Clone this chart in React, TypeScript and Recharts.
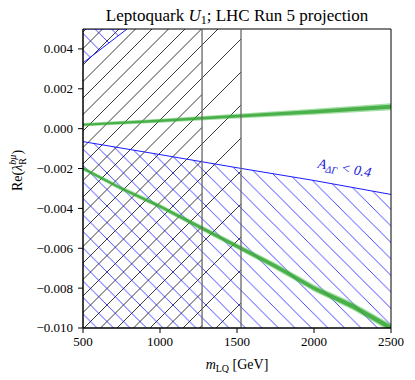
import React from 'react';
import {
  ComposedChart,
  Area,
  XAxis,
  YAxis,
  ReferenceArea,
  ReferenceLine,
  ReferenceDot,
  Label
} from 'recharts';

// m_LQ axis
const xTicks = [500, 1000, 1500, 2000, 2500];
const yTicks = [-0.01, -0.008, -0.006, -0.004, -0.002, 0, 0.002, 0.004];
const xDomain = [500, 2500];
const yDomain = [-0.01, 0.005];

// excluded mass ranges (black hatch)
const massLimitLow = 1273;
const massLimitHigh = 1526;

// A_DeltaGamma < 0.4 boundary (blue hatch below)
const blueX = [500, 1000, 1500, 2000, 2500];
const blueY = [-0.00065, -0.0013, -0.00196, -0.0026, -0.0033];

// small blue region top-left
const cornerX = [500, 786];
const cornerLo = [0.0033, 0.005];
const cornerHi = [0.005, 0.005];

// upper green band
const upX = [500, 1000, 1500, 2000, 2500];
const upOuterLo = [0.00011, 0.0003, 0.00051, 0.0007, 0.00092];
const upOuterHi = [0.00029, 0.0005, 0.00075, 0.001, 0.00128];
const upInnerLo = [0.00015, 0.00034, 0.00056, 0.00076, 0.001];
const upInnerHi = [0.00025, 0.00046, 0.0007, 0.00094, 0.0012];

// lower green band
const lowX = [500, 750, 1000, 1250, 1500, 1750, 2000, 2250, 2500];
const lowOuterLo = [-0.0021, -0.00311, -0.00402, -0.00503, -0.00604, -0.00706, -0.00817, -0.00909, -0.0102];
const lowOuterHi = [-0.0019, -0.00289, -0.00378, -0.00477, -0.00576, -0.00674, -0.00783, -0.00871, -0.0098];
const lowInnerLo = [-0.00206, -0.00306, -0.00397, -0.00498, -0.00599, -0.007, -0.0081, -0.00902, -0.01012];
const lowInnerHi = [-0.00194, -0.00294, -0.00383, -0.00482, -0.00581, -0.0068, -0.0079, -0.00878, -0.00988];

const blueData = blueX.map((x, i) => ({ x, y: blueY[i] }));
const cornerData = cornerX.map((x, i) => ({ x, band: [cornerLo[i], cornerHi[i]] }));
const upData = upX.map((x, i) => ({
  x,
  outer: [upOuterLo[i], upOuterHi[i]],
  inner: [upInnerLo[i], upInnerHi[i]]
}));
const lowData = lowX.map((x, i) => ({
  x,
  outer: [lowOuterLo[i], lowOuterHi[i]],
  inner: [lowInnerLo[i], lowInnerHi[i]]
}));

const FONT = '"Liberation Serif", "DejaVu Serif", serif';

const fmtY = (v: number) => {
  const s = Math.abs(v).toFixed(3);
  return v < 0 ? '\u2212' + s : s;
};

const XTick = (props: any) => (
  <text x={props.x} y={props.y} dy="0.75em" textAnchor="middle" fontFamily={FONT} fontSize={13} fill="#000">
    {props.payload.value}
  </text>
);

const YTick = (props: any) => (
  <text x={props.x} y={props.y} dy="0.34em" textAnchor="end" fontFamily={FONT} fontSize={13} fill="#000">
    {fmtY(props.payload.value)}
  </text>
);

const XLabel = (props: any) => {
  const { x, y, width } = props.viewBox;
  return (
    <text x={x + width / 2} y={y + 41} textAnchor="middle" fontFamily={FONT} fontSize={14} fill="#000">
      <tspan fontStyle="italic">m</tspan>
      <tspan fontSize={10} dy={3}>LQ</tspan>
      <tspan dy={-3}> [GeV]</tspan>
    </text>
  );
};

const YLabel = (props: any) => {
  const { x, y, height } = props.viewBox;
  const cx = x + 14;
  const cy = y + height / 2 - 8;
  return (
    <text transform={`translate(${cx},${cy}) rotate(-90)`} textAnchor="middle" fontFamily={FONT} fontSize={14} fill="#000">
      <tspan>Re(</tspan>
      <tspan fontStyle="italic">λ</tspan>
      <tspan fontSize={10} dy={4}>R</tspan>
      <tspan fontSize={10} fontStyle="italic" dx={-6.5} dy={-10}>bμ</tspan>
      <tspan dy={6}>)</tspan>
    </text>
  );
};

const AnnotLabel = (props: any) => {
  const { x, y } = props.viewBox;
  return (
    <text
      transform={`translate(${x},${y}) rotate(10)`}
      textAnchor="middle"
      fontFamily={FONT}
      fontSize={14}
      fill="#2020e0"
      fontStyle="italic"
    >
      <tspan>A</tspan>
      <tspan fontSize={10} dy={3}>ΔΓ</tspan>
      <tspan dy={-3}> &lt; 0.4</tspan>
    </text>
  );
};

export default function App() {
  const p = 33;
  const q = 16.5;
  return (
    <div style={{ position: 'relative', width: 400, height: 365, fontFamily: FONT }}>
      <div
        style={{
          position: 'absolute',
          left: 75,
          width: 308,
          top: -1,
          textAlign: 'center',
          fontFamily: FONT,
          fontSize: 17,
          lineHeight: '17px',
          whiteSpace: 'nowrap'
        }}
      >
        Leptoquark <i>U</i>
        <sub style={{ fontSize: 12, verticalAlign: '-3px', lineHeight: 0 }}>1</sub>; LHC Run 5 projection
      </div>
      <ComposedChart width={400} height={365} margin={{ top: 21, right: 17, left: 0, bottom: 0 }}>
        <defs>
          <pattern id="hatchA" patternUnits="userSpaceOnUse" width={p} height={p}>
            <path d={`M-1,1 l2,-2 M0,${p} l${p},${-p} M${p - 1},${p + 1} l2,-2`} stroke="#222" strokeWidth={0.9} />
          </pattern>
          <pattern id="hatchB" patternUnits="userSpaceOnUse" width={p} height={p} x={q}>
            <path d={`M-1,1 l2,-2 M0,${p} l${p},${-p} M${p - 1},${p + 1} l2,-2`} stroke="#222" strokeWidth={0.9} />
          </pattern>
          <pattern id="hatchBlue" patternUnits="userSpaceOnUse" width={q} height={q}>
            <path d={`M-1,${q - 1} l2,2 M0,0 l${q},${q} M${q - 1},-1 l2,2`} stroke="#1a1aff" strokeWidth={0.8} />
          </pattern>
        </defs>
        <XAxis
          type="number"
          dataKey="x"
          domain={xDomain}
          ticks={xTicks}
          allowDataOverflow
          height={45}
          tickSize={5}
          tickMargin={3}
          stroke="#000"
          tick={XTick}
        >
          <Label content={XLabel} />
        </XAxis>
        <YAxis
          type="number"
          domain={yDomain}
          ticks={yTicks}
          allowDataOverflow
          width={75}
          tickSize={5}
          tickMargin={5}
          stroke="#000"
          tick={YTick}
        >
          <Label content={YLabel} />
        </YAxis>
        <ReferenceArea x1={xDomain[0]} x2={massLimitHigh} y1={yDomain[0]} y2={yDomain[1]} fill="url(#hatchA)" fillOpacity={1} stroke="none" />
        <ReferenceArea x1={xDomain[0]} x2={massLimitLow} y1={yDomain[0]} y2={yDomain[1]} fill="url(#hatchB)" fillOpacity={1} stroke="none" />
        <Area
          data={blueData}
          dataKey="y"
          type="linear"
          baseValue={yDomain[0]}
          stroke="#1a1aff"
          strokeWidth={1}
          fill="url(#hatchBlue)"
          fillOpacity={1}
          isAnimationActive={false}
        />
        <Area
          data={cornerData}
          dataKey="band"
          type="linear"
          stroke="#1a1aff"
          strokeWidth={1}
          fill="url(#hatchBlue)"
          fillOpacity={1}
          isAnimationActive={false}
        />
        <ReferenceLine x={massLimitLow} stroke="#666" strokeWidth={1.3} />
        <ReferenceLine x={massLimitHigh} stroke="#666" strokeWidth={1.3} />
        <Area data={upData} dataKey="outer" type="linear" stroke="none" fill="#4cbf4c" fillOpacity={0.5} isAnimationActive={false} />
        <Area data={upData} dataKey="inner" type="linear" stroke="none" fill="#2ca02c" fillOpacity={0.75} isAnimationActive={false} />
        <Area data={lowData} dataKey="outer" type="linear" stroke="none" fill="#4cbf4c" fillOpacity={0.5} isAnimationActive={false} />
        <Area data={lowData} dataKey="inner" type="linear" stroke="none" fill="#2ca02c" fillOpacity={0.75} isAnimationActive={false} />
        <ReferenceArea x1={xDomain[0]} x2={xDomain[1]} y1={yDomain[0]} y2={yDomain[1]} fill="none" stroke="#000" strokeWidth={1} />
        <ReferenceDot x={2200} y={-0.00225} r={1} fillOpacity={0} strokeOpacity={0} label={AnnotLabel} />
      </ComposedChart>
    </div>
  );
}
